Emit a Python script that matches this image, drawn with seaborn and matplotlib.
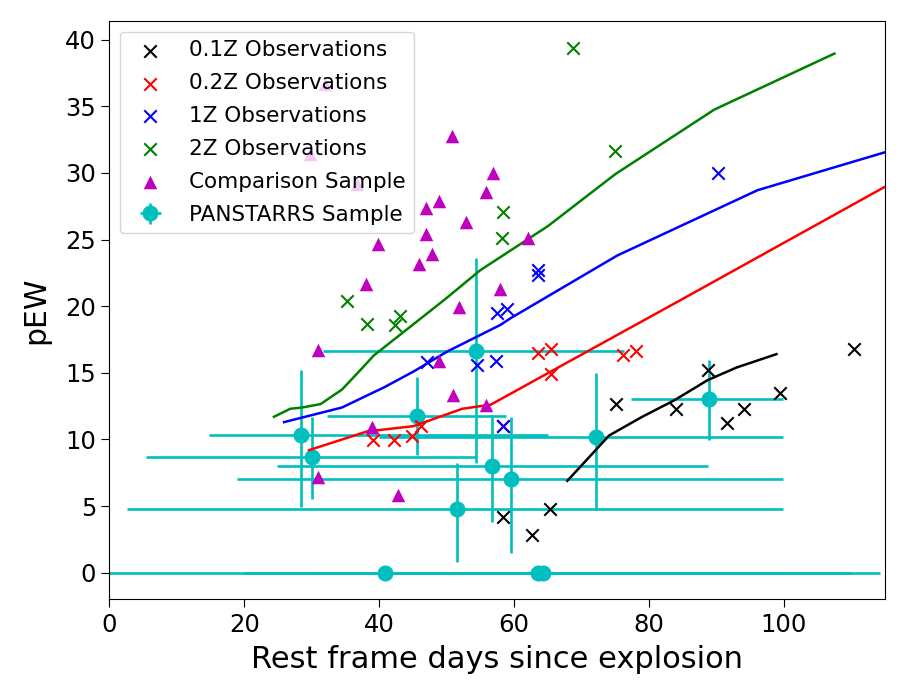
import matplotlib
matplotlib.use("Agg")
import matplotlib.pyplot as plt
import numpy as np
import seaborn as sns

# observations (x markers)
obs01_x = [110.4, 88.7, 99.5, 75.1, 84.0, 94.1, 91.6, 58.4, 65.3, 62.7]
obs01_y = [16.75, 15.2, 13.5, 12.65, 12.3, 12.3, 11.25, 4.2, 4.8, 2.8]
obs02_x = [39.1, 42.2, 44.9, 46.2, 63.5, 65.5, 76.1, 78.1, 65.5, 58.4]
obs02_y = [9.95, 9.95, 10.25, 11.0, 16.45, 16.75, 16.3, 16.6, 14.9, 11.0]
obs1_x = [90.2, 63.5, 63.5, 57.4, 58.9, 47.1, 54.5, 57.3, 58.4]
obs1_y = [30.0, 22.75, 22.35, 19.45, 19.75, 15.8, 15.6, 15.85, 11.0]
obs2_x = [68.7, 74.9, 58.4, 58.2, 35.2, 38.2, 43.1, 42.4]
obs2_y = [39.4, 31.65, 27.1, 25.1, 20.4, 18.65, 19.25, 18.6]

# model tracks
line01_x = [67.9, 74.1, 79.0, 83.8, 88.7, 93.0, 98.9]
line01_y = [6.9, 10.3, 11.7, 12.95, 14.45, 15.4, 16.4]
line02_x = [29.6, 38.2, 45.1, 52.3, 55.0, 56.5, 85.2, 118.0]
line02_y = [9.2, 10.6, 11.0, 12.3, 12.5, 12.6, 20.6, 29.8]
line1_x = [25.9, 34.5, 38.2, 40.7, 45.1, 50.1, 58.0, 59.5, 75.3, 96.1, 118.0]
line1_y = [11.3, 12.4, 13.3, 13.9, 15.1, 16.6, 18.6, 19.1, 23.8, 28.7, 32.0]
line2_x = [24.4, 26.8, 28.6, 31.3, 34.5, 37.2, 39.2, 49.6, 55.0, 65.0, 75.0, 89.7, 107.5]
line2_y = [11.7, 12.3, 12.4, 12.65, 13.75, 15.2, 16.3, 20.45, 22.7, 26.0, 29.9, 34.75, 38.95]

# comparison sample
comp_x = [31.9, 29.7, 36.7, 50.8, 56.9, 55.9, 48.9, 47.0, 52.8, 47.0, 62.0, 39.8,
          47.9, 45.9, 38.0, 57.9, 51.8, 31.0, 48.9, 51.0, 55.8, 39.0, 31.0, 42.8]
comp_y = [36.7, 31.4, 29.2, 32.8, 30.0, 28.6, 27.9, 27.4, 26.3, 25.4, 25.1, 24.7,
          23.9, 23.2, 21.7, 21.3, 19.9, 16.7, 15.9, 13.3, 12.6, 10.9, 7.2, 5.8]

# PANSTARRS sample with ranges
ps_x = [28.4, 30.05, 45.65, 54.3, 56.8, 59.5, 51.5, 72.1, 88.9, 40.9, 63.5, 64.3]
ps_y = [10.3, 8.65, 11.75, 16.65, 8.0, 7.0, 4.8, 10.15, 13.0, 0.0, 0.0, 0.0]
ps_xlo = [14.7, 5.5, 32.2, 31.7, 24.9, 18.9, 2.6, 40.0, 77.4, -3.0, 20.0, 30.0]
ps_xhi = [65.0, 54.5, 58.8, 76.3, 88.7, 99.9, 99.9, 99.9, 99.85, 114.2, 110.0, 100.0]
ps_ylo = [4.95, 5.5, 8.8, 8.2, 3.8, 1.45, 0.8, 4.7, 9.95, 0.0, 0.0, 0.0]
ps_yhi = [15.2, 11.7, 14.7, 23.6, 11.8, 11.7, 8.2, 14.95, 15.95, 0.0, 0.0, 0.0]

fig, ax = plt.subplots(figsize=(9.04, 6.97), dpi=100)
fig.subplots_adjust(left=0.121, right=0.979, bottom=0.140, top=0.970)

ps_x = np.array(ps_x)
ps_y = np.array(ps_y)
xerr = [ps_x - np.array(ps_xlo), np.array(ps_xhi) - ps_x]
yerr = [ps_y - np.array(ps_ylo), np.array(ps_yhi) - ps_y]

ms = 80
sns.scatterplot(x=obs01_x, y=obs01_y, marker="x", color="k", s=ms, linewidth=1.5,
                label="0.1Z Observations", ax=ax, zorder=3)
sns.scatterplot(x=obs02_x, y=obs02_y, marker="x", color="r", s=ms, linewidth=1.5,
                label="0.2Z Observations", ax=ax, zorder=3)
sns.scatterplot(x=obs1_x, y=obs1_y, marker="x", color="b", s=ms, linewidth=1.5,
                label="1Z Observations", ax=ax, zorder=3)
sns.scatterplot(x=obs2_x, y=obs2_y, marker="x", color="g", s=ms, linewidth=1.5,
                label="2Z Observations", ax=ax, zorder=3)
sns.scatterplot(x=comp_x, y=comp_y, marker="^", color="m", s=95, linewidth=0,
                label="Comparison Sample", ax=ax, zorder=3)

for lx, ly, c in [(line01_x, line01_y, "k"), (line02_x, line02_y, "r"),
                  (line1_x, line1_y, "b"), (line2_x, line2_y, "g")]:
    sns.lineplot(x=lx, y=ly, color=c, lw=1.8, estimator=None, sort=False, ax=ax, zorder=2)

ax.errorbar(ps_x, ps_y, xerr=xerr, yerr=yerr, fmt="o", color="c", ms=10.5,
            elinewidth=1.9, label="PANSTARRS Sample", zorder=1.5)

ax.set_xlim(0, 115)
ax.set_ylim(-2.0, 41.4)
ax.set_xlabel("Rest frame days since explosion", fontsize=22, labelpad=6)
ax.set_ylabel("pEW", fontsize=21.5, labelpad=11)
ax.tick_params(labelsize=17.5, length=6)
ax.legend(loc="upper left", fontsize=15.5, labelspacing=0.6)

fig.savefig("out.png", dpi=100)
